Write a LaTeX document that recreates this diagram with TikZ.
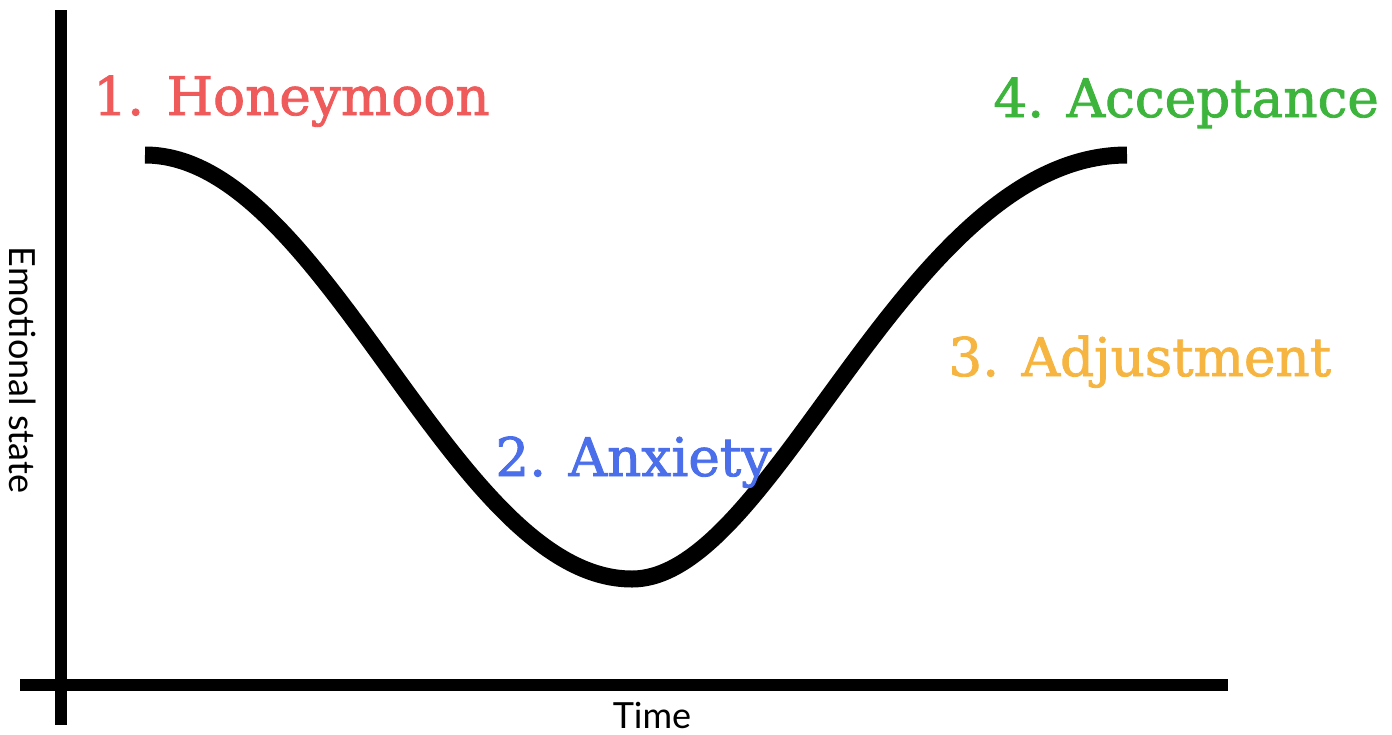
\documentclass[tikz,border=0pt]{standalone}
\usepackage{fontspec}
\setmainfont{DejaVu Serif}
\newfontfamily\stagefont[FakeBold=1.6]{DejaVu Serif}
\newfontfamily\axisfont{Lato}
\definecolor{honeyred}{HTML}{EF5B5B}
\definecolor{anxblue}{HTML}{4B6EEA}
\definecolor{adjyellow}{HTML}{F6B540}
\definecolor{accgreen}{HTML}{3DB53D}
\begin{document}
\begin{tikzpicture}[x=0.5pt,y=-0.5pt,
  stage/.style={inner sep=0pt,anchor=base west,font=\stagefont\fontsize{26.6}{30}\selectfont},
  axislabel/.style={inner sep=0pt,font=\axisfont\fontsize{18}{21}\selectfont},
  axisline/.style={line width=5.8pt,black},
  curveline/.style={line width=8.5pt,black}]
\useasboundingbox (0,0) rectangle (1392,734);
% axes
\coordinate (ytop) at (61,10);
\coordinate (ybot) at (61,725);
\coordinate (xl) at (20,685);
\coordinate (xr) at (1228,685);
\draw[axisline] (ytop) -- (ybot);
\draw[axisline] (xl) -- (xr);
% curve
\coordinate (c0) at (145,155);
\coordinate (cmin) at (632,579);
\coordinate (c1) at (1127,155);
\draw[curveline] (c0) .. controls (325,155) and (452,579) .. (cmin)
  .. controls (775,579) and (906,155) .. (c1);
% labels
\node[stage,text=honeyred] (honey) at (93,115) {1. Honeymoon};
\node[stage,text=anxblue] (anx) at (495,476) {2. Anxiety};
\node[stage,text=adjyellow] (adj) at (948,376) {3. Adjustment};
\node[stage,text=accgreen] (acc) at (993,117) {4. Acceptance};
\node[axislabel,anchor=base] (time) at (652,728) {Time};
\node[axislabel,rotate=-90,anchor=base] (emo) at (10,370) {Emotional state};
\end{tikzpicture}
\end{document}
